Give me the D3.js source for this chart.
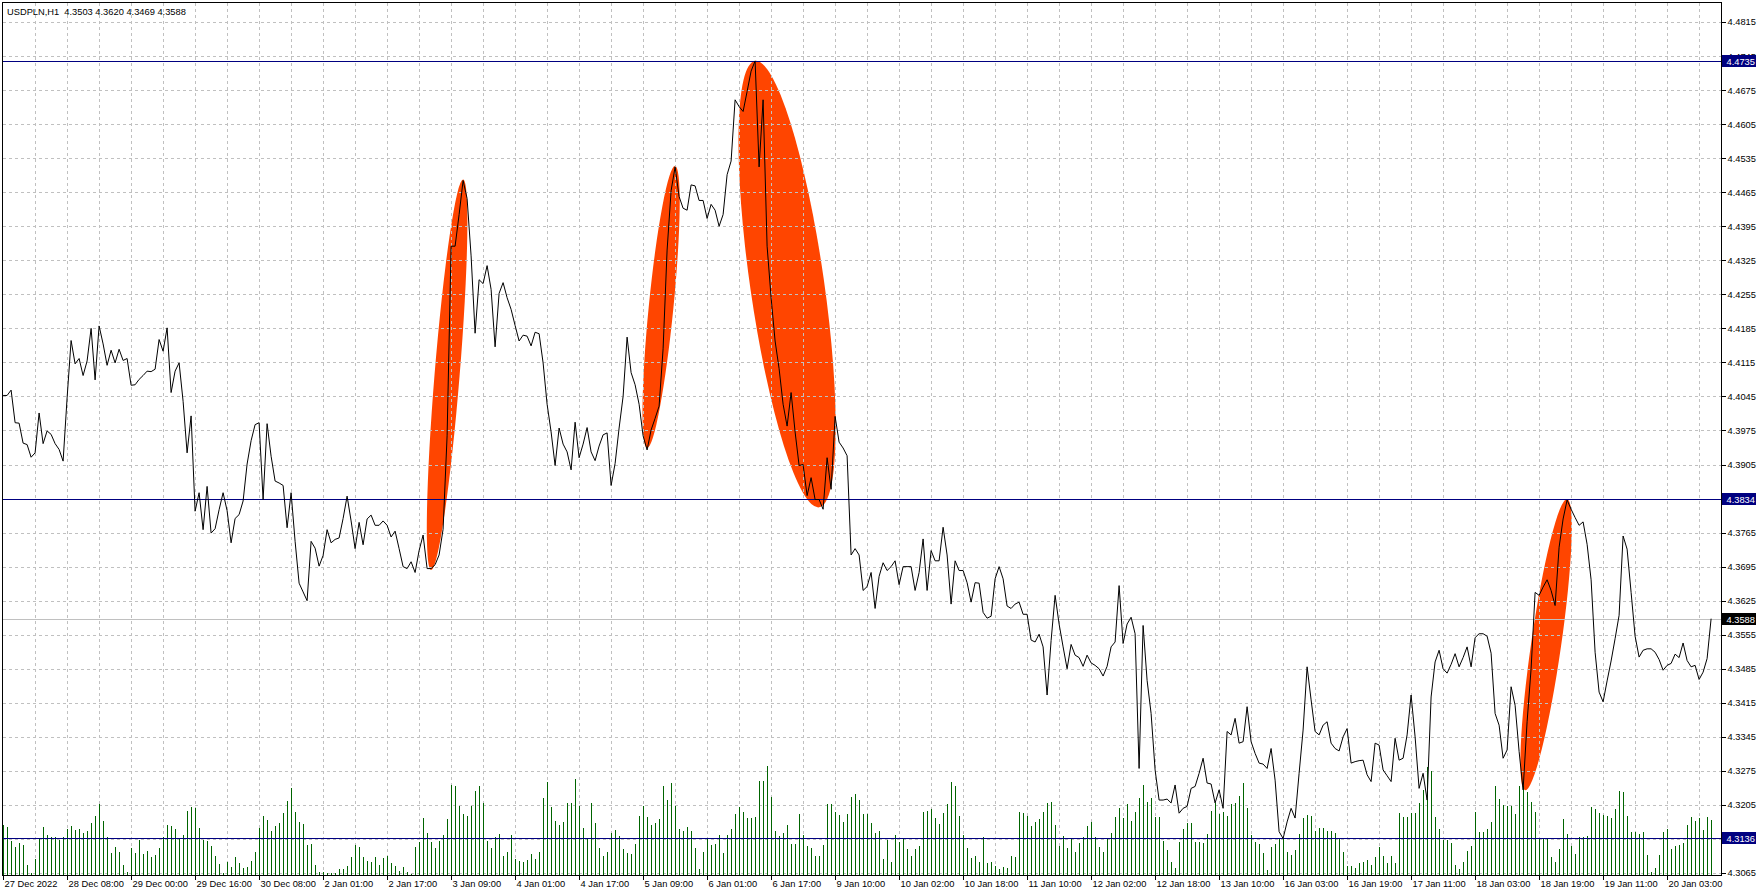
<!DOCTYPE html>
<html>
<head>
<meta charset="utf-8">
<script src="https://cdn.jsdelivr.net/npm/d3@7"></script>
<style>
  html, body { margin: 0; padding: 0; background: #ffffff; }
  svg { display: block; font-family: "Liberation Sans", Arial, sans-serif; }
</style>
</head>
<body>
<div id="mt-chart"></div>
<script>
// USDPLN H1 closes, one per bar
var vCloses = [
  4.4047, 4.4047, 4.4058, 4.3991, 4.3990, 4.3949, 4.3946, 4.3920, 4.3929, 4.4011,
  4.3948, 4.3974, 4.3967, 4.3948, 4.3936, 4.3912, 4.4042, 4.4160, 4.4112, 4.4123,
  4.4088, 4.4118, 4.4185, 4.4079, 4.4190, 4.4153, 4.4109, 4.4140, 4.4114, 4.4142,
  4.4119, 4.4123, 4.4068, 4.4069, 4.4080, 4.4088, 4.4097, 4.4096, 4.4101, 4.4162,
  4.4138, 4.4186, 4.4053, 4.4097, 4.4114, 4.4035, 4.3929, 4.4005, 4.3809, 4.3847,
  4.3771, 4.3860, 4.3764, 4.3773, 4.3812, 4.3847, 4.3810, 4.3744, 4.3794, 4.3802,
  4.3830, 4.3906, 4.3954, 4.3987, 4.3991, 4.3833, 4.3989, 4.3922, 4.3871, 4.3867,
  4.3862, 4.3775, 4.3847, 4.3747, 4.3661, 4.3643, 4.3625, 4.3747, 4.3733, 4.3696,
  4.3718, 4.3771, 4.3744, 4.3751, 4.3754, 4.3794, 4.3840, 4.3789, 4.3732, 4.3786,
  4.3740, 4.3793, 4.3801, 4.3780, 4.3780, 4.3789, 4.3780, 4.3756, 4.3768, 4.3732,
  4.3695, 4.3691, 4.3705, 4.3683, 4.3728, 4.3760, 4.3691, 4.3691, 4.3699, 4.3719,
  4.3772, 4.3964, 4.4354, 4.4354, 4.4419, 4.4489, 4.4452, 4.4334, 4.4175, 4.4285,
  4.4277, 4.4314, 4.4265, 4.4147, 4.4257, 4.4279, 4.4248, 4.4224, 4.4191, 4.4159,
  4.4171, 4.4169, 4.4149, 4.4177, 4.4174, 4.4114, 4.4029, 4.3972, 4.3903, 4.3980,
  4.3947, 4.3931, 4.3894, 4.3992, 4.3919, 4.3947, 4.3981, 4.3931, 4.3913, 4.3943,
  4.3966, 4.3970, 4.3862, 4.3907, 4.3980, 4.4045, 4.4167, 4.4094, 4.4069, 4.4029,
  4.3964, 4.3935, 4.3976, 4.4000, 4.4025, 4.4143, 4.4346, 4.4468, 4.4517, 4.4456,
  4.4432, 4.4428, 4.4480, 4.4478, 4.4448, 4.4448, 4.4411, 4.4440, 4.4428, 4.4395,
  4.4419, 4.4501, 4.4529, 4.4655, 4.4641, 4.4631, 4.4672, 4.4714, 4.4735, 4.4517,
  4.4655, 4.4354, 4.4248, 4.4159, 4.4102, 4.4029, 4.3984, 4.4053, 4.3972, 4.3903,
  4.3905, 4.3841, 4.3878, 4.3833, 4.3833, 4.3813, 4.3919, 4.3854, 4.4004, 4.3951,
  4.3939, 4.3923, 4.3719, 4.3732, 4.3719, 4.3646, 4.3654, 4.3683, 4.3609, 4.3675,
  4.3703, 4.3687, 4.3695, 4.3707, 4.3658, 4.3695, 4.3695, 4.3695, 4.3646, 4.3683,
  4.3752, 4.3646, 4.3728, 4.3707, 4.3707, 4.3776, 4.3719, 4.3618, 4.3707, 4.3687,
  4.3687, 4.3662, 4.3622, 4.3662, 4.3661, 4.3601, 4.3589, 4.3593, 4.3670, 4.3695,
  4.3670, 4.3614, 4.3609, 4.3618, 4.3622, 4.3597, 4.3597, 4.3544, 4.3540, 4.3556,
  4.3530, 4.3431, 4.3543, 4.3636, 4.3577, 4.3530, 4.3485, 4.3535, 4.3513, 4.3508,
  4.3490, 4.3513, 4.3497, 4.3492, 4.3485, 4.3470, 4.3490, 4.3530, 4.3540, 4.3656,
  4.3537, 4.3577, 4.3591, 4.3557, 4.3280, 4.3574, 4.3461, 4.3393, 4.3277, 4.3215,
  4.3215, 4.3217, 4.3209, 4.3246, 4.3188, 4.3198, 4.3202, 4.3239, 4.3243, 4.3270,
  4.3301, 4.3250, 4.3248, 4.3209, 4.3236, 4.3198, 4.3356, 4.3349, 4.3383, 4.3332,
  4.3335, 4.3407, 4.3335, 4.3311, 4.3291, 4.3289, 4.3280, 4.3321, 4.3256, 4.3150,
  4.3136, 4.3170, 4.3198, 4.3178, 4.3270, 4.3359, 4.3489, 4.3421, 4.3356, 4.3349,
  4.3369, 4.3376, 4.3332, 4.3321, 4.3316, 4.3345, 4.3362, 4.3291, 4.3294, 4.3296,
  4.3297, 4.3267, 4.3253, 4.3332, 4.3328, 4.3277, 4.3265, 4.3253, 4.3342, 4.3297,
  4.3301, 4.3349, 4.3431, 4.3345, 4.3239, 4.3270, 4.3215, 4.3427, 4.3499, 4.3523,
  4.3485, 4.3476, 4.3494, 4.3516, 4.3489, 4.3508, 4.3530, 4.3489, 4.3549, 4.3557,
  4.3557, 4.3552, 4.3517, 4.3393, 4.3369, 4.3301, 4.3318, 4.3448, 4.3410, 4.3315,
  4.3236, 4.3376, 4.3485, 4.3642, 4.3636, 4.3653, 4.3668, 4.3646, 4.3615, 4.3735,
  4.3793, 4.3832, 4.3813, 4.3796, 4.3780, 4.3787, 4.3741, 4.3668, 4.3519, 4.3437,
  4.3417, 4.3460, 4.3501, 4.3547, 4.3595, 4.3758, 4.3731, 4.3642, 4.3552, 4.3509,
  4.3523, 4.3526, 4.3526, 4.3519, 4.3504, 4.3482, 4.3492, 4.3496, 4.3515, 4.3508,
  4.3538, 4.3502, 4.3489, 4.3492, 4.3463, 4.3478, 4.3506, 4.3588
];

// tick volumes, one per bar
var vVolumes = [
  150, 143, 103, 83, 96, 90, 30, 6, 48, 108,
  143, 120, 113, 113, 106, 113, 138, 146, 135, 138,
  126, 133, 156, 178, 213, 162, 113, 66, 83, 68,
  31, 8, 81, 66, 105, 63, 72, 55, 60, 80,
  113, 150, 146, 138, 108, 120, 191, 203, 201, 140,
  106, 103, 86, 56, 33, 5, 38, 23, 53, 35,
  20, 23, 42, 68, 140, 176, 164, 132, 146, 156,
  186, 221, 261, 190, 158, 153, 90, 92, 30, 8,
  8, 6, 5, 5, 18, 18, 26, 53, 89, 83,
  53, 41, 38, 53, 30, 50, 56, 35, 28, 12,
  24, 8, 2, 83, 98, 171, 126, 98, 82, 101,
  121, 168, 270, 268, 208, 183, 178, 206, 251, 266,
  216, 102, 80, 113, 122, 56, 68, 120, 48, 43,
  40, 46, 62, 48, 68, 230, 280, 203, 163, 150,
  160, 215, 215, 288, 208, 142, 108, 216, 156, 81,
  56, 68, 126, 135, 116, 78, 66, 63, 93, 176,
  208, 173, 150, 156, 168, 266, 225, 276, 208, 138,
  133, 143, 132, 80, 18, 68, 111, 90, 93, 120,
  66, 120, 138, 183, 205, 190, 171, 171, 174, 282,
  282, 328, 233, 132, 116, 126, 150, 93, 93, 183,
  120, 86, 80, 56, 56, 90, 213, 213, 188, 180,
  158, 183, 234, 243, 224, 183, 183, 156, 126, 132,
  48, 105, 40, 120, 99, 108, 78, 56, 78, 88,
  188, 192, 198, 172, 153, 186, 213, 278, 268, 176,
  120, 80, 50, 58, 38, 113, 36, 38, 28, 18,
  23, 20, 56, 53, 190, 186, 178, 148, 160, 168,
  188, 216, 218, 150, 88, 118, 80, 108, 68, 96,
  113, 148, 158, 113, 83, 68, 108, 126, 173, 200,
  170, 213, 163, 188, 230, 271, 220, 230, 173, 175,
  103, 75, 39, 20, 100, 138, 156, 156, 100, 98,
  96, 123, 193, 215, 183, 190, 178, 213, 215, 236,
  276, 200, 120, 98, 93, 66, 16, 83, 93, 108,
  110, 68, 60, 76, 123, 170, 180, 176, 133, 140,
  140, 133, 133, 126, 108, 68, 28, 26, 20, 36,
  38, 46, 30, 53, 83, 56, 36, 58, 36, 185,
  175, 173, 185, 186, 215, 256, 323, 313, 173, 138,
  106, 106, 96, 30, 18, 38, 73, 86, 190, 130,
  128, 138, 158, 266, 228, 210, 208, 208, 183, 268,
  268, 250, 218, 190, 108, 108, 110, 53, 38, 78,
  168, 123, 86, 63, 113, 113, 118, 203, 198, 186,
  180, 178, 170, 198, 253, 250, 178, 130, 128, 123,
  128, 60, 10, 20, 60, 130, 138, 78, 88, 90,
  96, 150, 173, 163, 170, 136, 173, 166
];

// time labels, one every 16 bars
var vTimeLabels = [
  "27 Dec 2022", "28 Dec 08:00", "29 Dec 00:00", "29 Dec 16:00", "30 Dec 08:00",
  "2 Jan 01:00", "2 Jan 17:00", "3 Jan 09:00", "4 Jan 01:00", "4 Jan 17:00",
  "5 Jan 09:00", "6 Jan 01:00", "6 Jan 17:00", "9 Jan 10:00", "10 Jan 02:00",
  "10 Jan 18:00", "11 Jan 10:00", "12 Jan 02:00", "12 Jan 18:00", "13 Jan 10:00",
  "16 Jan 03:00", "16 Jan 19:00", "17 Jan 11:00", "18 Jan 03:00", "18 Jan 19:00",
  "19 Jan 11:00", "20 Jan 03:00"
];

var vPriceTicks = [
  4.3065, 4.3135, 4.3205, 4.3275, 4.3345, 4.3415, 4.3485, 4.3555, 4.3625,
  4.3695, 4.3765, 4.3835, 4.3905, 4.3975, 4.4045, 4.4115, 4.4185, 4.4255,
  4.4325, 4.4395, 4.4465, 4.4535, 4.4605, 4.4675, 4.4745, 4.4815
];

// horizontal line objects and the bid line
var vLevels = [4.4735, 4.3834, 4.3136];
var vBid = 4.3588;

// ellipse objects: [bar1, price1, bar2, price2, minor/major ratio]
var vEllipses = [
  [107, 4.3688, 115, 4.4491, 0.064],
  [161, 4.3939, 168, 4.4519, 0.087],
  [188, 4.4735, 204, 4.3817, 0.164],
  [380.5, 4.3235, 391, 4.3834, 0.102]
];

var vTitle = "USDPLN,H1  4.3503 4.3620 4.3469 4.3588";

(function (window, document) {

    var vWidth = 1761, vHeight = 896;
    var vPlot = { mLeft: 2.5, mTop: 2.5, mRight: 1721, mBottom: 875.5 };
    var vFont = "9.3px";

    var svg = d3.select("#mt-chart")
        .append("svg")
        .attr("width", vWidth)
        .attr("height", vHeight);

    svg.append("rect")
        .attr("width", vWidth)
        .attr("height", vHeight)
        .attr("fill", "#ffffff");

    // scales
    var vX = d3.scaleLinear()
        .domain([0, vCloses.length - 1])
        .range([3.1, 3.1 + 4 * (vCloses.length - 1)]);

    var vY = d3.scaleLinear()
        .domain([4.3065, 4.4815])
        .range([873, 22]);

    var vVol = d3.scaleLinear()
        .domain([0, 330])
        .range([0, 110]);

    var fmt = d3.format(".4f");

    // ellipses sit in the background, under the grid
    var gEll = svg.append("g");
    vEllipses.forEach(function (aE) {
        var x1 = vX(aE[0]), y1 = vY(aE[1]), x2 = vX(aE[2]), y2 = vY(aE[3]);
        var vLen = Math.sqrt((x2 - x1) * (x2 - x1) + (y2 - y1) * (y2 - y1));
        var vAng = Math.atan2(y2 - y1, x2 - x1) * 180 / Math.PI;
        gEll.append("ellipse")
            .attr("cx", 0).attr("cy", 0)
            .attr("rx", vLen / 2)
            .attr("ry", vLen / 2 * aE[4])
            .attr("transform", "translate(" + ((x1 + x2) / 2) + "," + ((y1 + y2) / 2) + ") rotate(" + vAng + ")")
            .attr("fill", "#ff4500");
    });

    // grid
    var gGrid = svg.append("g")
        .attr("stroke", "#c0c0c0")
        .attr("stroke-width", 1)
        .attr("stroke-dasharray", "3,3")
        .attr("shape-rendering", "crispEdges");

    gGrid.selectAll("line.h")
        .data(vPriceTicks)
        .enter()
        .append("line")
        .attr("x1", vPlot.mLeft)
        .attr("x2", vPlot.mRight)
        .attr("y1", function (d) { return Math.round(vY(d)) + 0.5; })
        .attr("y2", function (d) { return Math.round(vY(d)) + 0.5; });

    gGrid.selectAll("line.v")
        .data(d3.range(8, vCloses.length, 8))
        .enter()
        .append("line")
        .attr("x1", function (d) { return Math.round(vX(d)) + 0.5; })
        .attr("x2", function (d) { return Math.round(vX(d)) + 0.5; })
        .attr("y1", vPlot.mTop)
        .attr("y2", vPlot.mBottom);

    // volumes
    svg.append("g")
        .attr("shape-rendering", "crispEdges")
        .selectAll("rect")
        .data(vVolumes)
        .enter()
        .append("rect")
        .attr("x", function (d, i) { return Math.round(vX(i)); })
        .attr("y", function (d) { return 875 - vVol(d); })
        .attr("width", 1)
        .attr("height", function (d) { return vVol(d); })
        .attr("fill", "#006400");

    // bid line
    svg.append("line")
        .attr("x1", vPlot.mLeft).attr("x2", vPlot.mRight)
        .attr("y1", Math.round(vY(vBid)) + 0.5)
        .attr("y2", Math.round(vY(vBid)) + 0.5)
        .attr("stroke", "#c0c0c0")
        .attr("shape-rendering", "crispEdges");

    // horizontal line objects
    svg.append("g")
        .selectAll("line")
        .data(vLevels)
        .enter()
        .append("line")
        .attr("x1", vPlot.mLeft).attr("x2", vPlot.mRight)
        .attr("y1", function (d) { return Math.round(vY(d)) + 0.5; })
        .attr("y2", function (d) { return Math.round(vY(d)) + 0.5; })
        .attr("stroke", "#000080")
        .attr("shape-rendering", "crispEdges");

    // price line
    var vLine = d3.line()
        .x(function (d, i) { return vX(i); })
        .y(function (d) { return vY(d); });

    svg.append("path")
        .datum(vCloses)
        .attr("d", vLine)
        .attr("fill", "none")
        .attr("stroke", "#000000")
        .attr("stroke-width", 1);

    // frame
    svg.append("path")
        .attr("d", "M" + vPlot.mLeft + "," + vPlot.mBottom + "V" + vPlot.mTop + "H" + (vPlot.mRight + 0.5) + "V" + vPlot.mBottom + "H" + vPlot.mLeft)
        .attr("fill", "none")
        .attr("stroke", "#000000")
        .attr("shape-rendering", "crispEdges");

    // price axis on the right
    var gY = svg.append("g")
        .attr("transform", "translate(" + (vPlot.mRight + 0.5) + ",0)")
        .call(d3.axisRight(vY)
            .tickValues(vPriceTicks)
            .tickFormat(fmt)
            .tickSize(4)
            .tickPadding(2));
    gY.select(".domain").remove();
    gY.selectAll("text")
        .attr("font-family", "Liberation Sans, Arial, sans-serif")
        .attr("font-size", vFont)
        .attr("fill", "#000000");
    gY.selectAll("line").attr("shape-rendering", "crispEdges");

    // time axis
    var vTickIdx = vTimeLabels.map(function (d, i) { return i * 16; });
    var gX = svg.append("g")
        .attr("transform", "translate(0," + vPlot.mBottom + ")")
        .call(d3.axisBottom(vX)
            .tickValues(vTickIdx)
            .tickFormat(function (d, i) { return vTimeLabels[i]; })
            .tickSize(4)
            .tickPadding(2));
    gX.select(".domain").remove();
    gX.selectAll("line").attr("shape-rendering", "crispEdges");
    gX.selectAll("text")
        .attr("text-anchor", "start")
        .attr("x", 1)
        .attr("y", 5)
        .attr("dy", "0.71em")
        .attr("font-family", "Liberation Sans, Arial, sans-serif")
        .attr("font-size", vFont)
        .attr("fill", "#000000");

    // price label boxes
    var vBoxes = vLevels.map(function (d) { return { mVal: d, mFill: "#000080" }; })
        .concat([{ mVal: vBid, mFill: "#000000" }]);
    var gBox = svg.append("g").selectAll("g")
        .data(vBoxes)
        .enter()
        .append("g")
        .attr("transform", function (d) { return "translate(" + (vPlot.mRight + 1) + "," + Math.round(vY(d.mVal)) + ")"; });
    gBox.append("rect")
        .attr("x", 0).attr("y", -6)
        .attr("width", 34).attr("height", 12)
        .attr("fill", function (d) { return d.mFill; });
    gBox.append("text")
        .attr("x", 4.5).attr("y", 0.5)
        .attr("dy", "0.35em")
        .attr("font-size", vFont)
        .attr("fill", "#ffffff")
        .text(function (d) { return fmt(d.mVal); });

    // header
    svg.append("text")
        .attr("x", 7).attr("y", 15)
        .attr("font-size", vFont)
        .attr("fill", "#000000")
        .style("white-space", "pre")
        .text(vTitle);

})(window, document);
</script>
</body>
</html>
